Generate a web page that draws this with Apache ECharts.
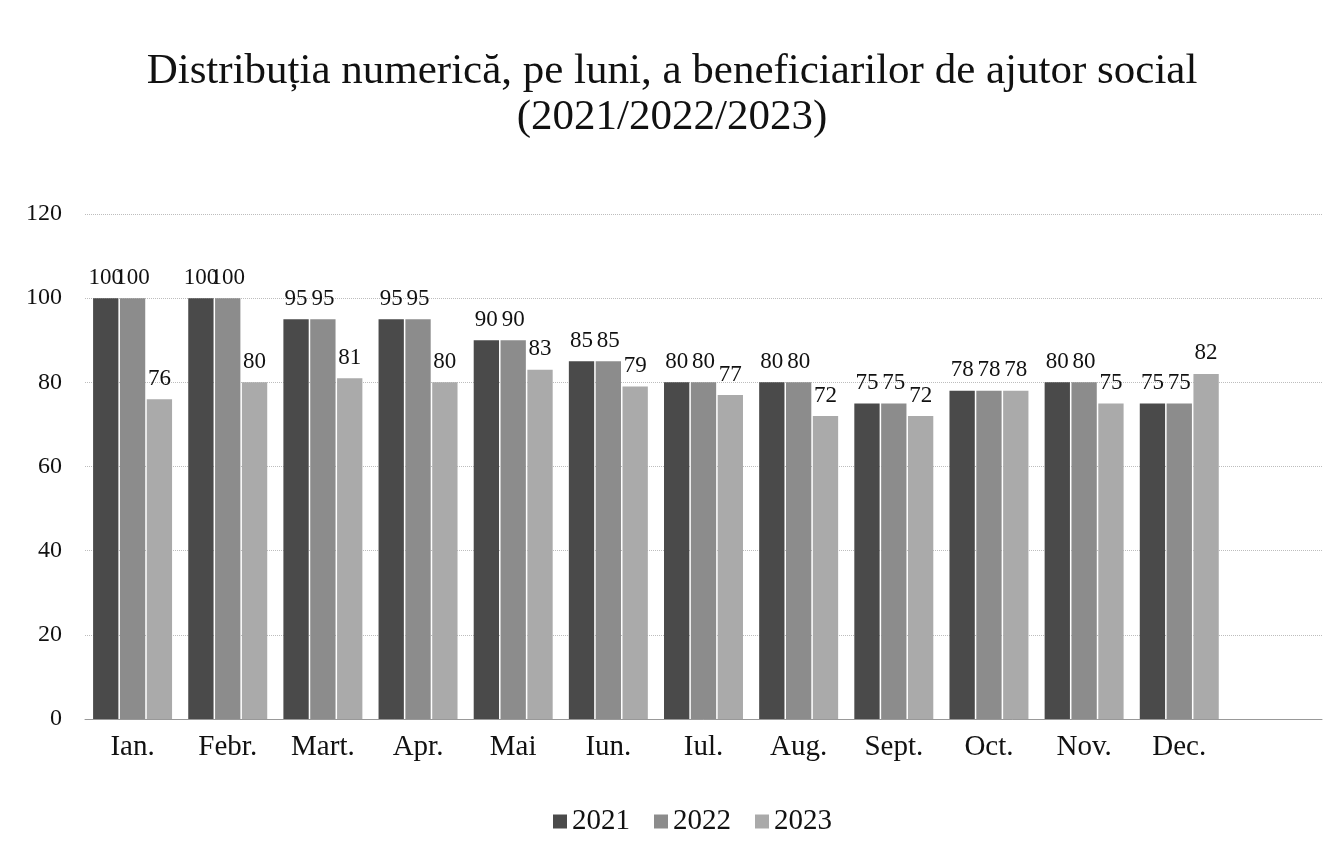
<!DOCTYPE html>
<html>
<head>
<meta charset="utf-8">
<script src="https://cdn.jsdelivr.net/npm/echarts@6/dist/echarts.min.js"></script>
<style>
  html, body { margin: 0; padding: 0; background: #fff; }
  #chart { width: 1344px; height: 861px; }
</style>
</head>
<body>
<div id="chart"></div>
<script>
// luni (ultima categorie goala, ca in graficul original)
var months = ["Ian.", "Febr.", "Mart.", "Apr.", "Mai", "Iun.", "Iul.", "Aug.", "Sept.", "Oct.", "Nov.", "Dec.", ""];
var years = ["2021", "2022", "2023"];
var v2021 = [100, 100, 95, 95, 90, 85, 80, 80, 75, 78, 80, 75, null];
var v2022 = [100, 100, 95, 95, 90, 85, 80, 80, 75, 78, 80, 75, null];
var v2023 = [76, 80, 81, 80, 83, 79, 77, 72, 72, 78, 75, 82, null];
var yTicks = [0, 20, 40, 60, 80, 100, 120];

var greys = ["#4a4a4a", "#8c8c8c", "#aaaaaa"];
var serif = "Liberation Serif, Times New Roman, serif";

function mkSeries(name, data, color) {
    return {
        name: name,
        type: "bar",
        data: data,
        barGap: "6%",
        barCategoryGap: "17%",
        itemStyle: {color: color},
        label: {
            show: true,
            position: "top",
            distance: 9,
            color: "#111",
            fontFamily: serif,
            fontSize: 23
        }
    };
}

var chart = echarts.init(document.getElementById("chart"));
chart.setOption({
    animation: false,
    backgroundColor: "#fff",
    title: {
        text: "Distribuția numerică, pe luni, a beneficiarilor de ajutor social\n(2021/2022/2023)",
        left: "center",
        top: 44,
        textStyle: {
            fontFamily: serif,
            fontWeight: "normal",
            fontSize: 43,
            lineHeight: 46,
            color: "#111"
        }
    },
    legend: {
        bottom: 20,
        left: 548,
        icon: "rect",
        itemWidth: 14,
        itemHeight: 14,
        itemGap: 24,
        textStyle: {fontFamily: serif, fontSize: 29, color: "#111"},
        data: years
    },
    grid: {left: 85, right: 22, top: 214, bottom: 142},
    xAxis: {
        type: "category",
        data: months,
        axisTick: {show: false},
        axisLine: {lineStyle: {color: "#999", width: 1}},
        axisLabel: {
            fontFamily: serif,
            fontSize: 29,
            color: "#111",
            margin: 14
        }
    },
    yAxis: {
        type: "value",
        min: yTicks[0],
        max: yTicks[yTicks.length - 1],
        interval: 20,
        axisLine: {show: false},
        axisTick: {show: false},
        splitLine: {lineStyle: {color: "#bdbdbd", type: "dotted", width: 1}},
        axisLabel: {
            fontFamily: serif,
            fontSize: 24,
            color: "#111",
            margin: 23
        }
    },
    series: [
        mkSeries(years[0], v2021, greys[0]),
        mkSeries(years[1], v2022, greys[1]),
        mkSeries(years[2], v2023, greys[2])
    ]
});
</script>
</body>
</html>
